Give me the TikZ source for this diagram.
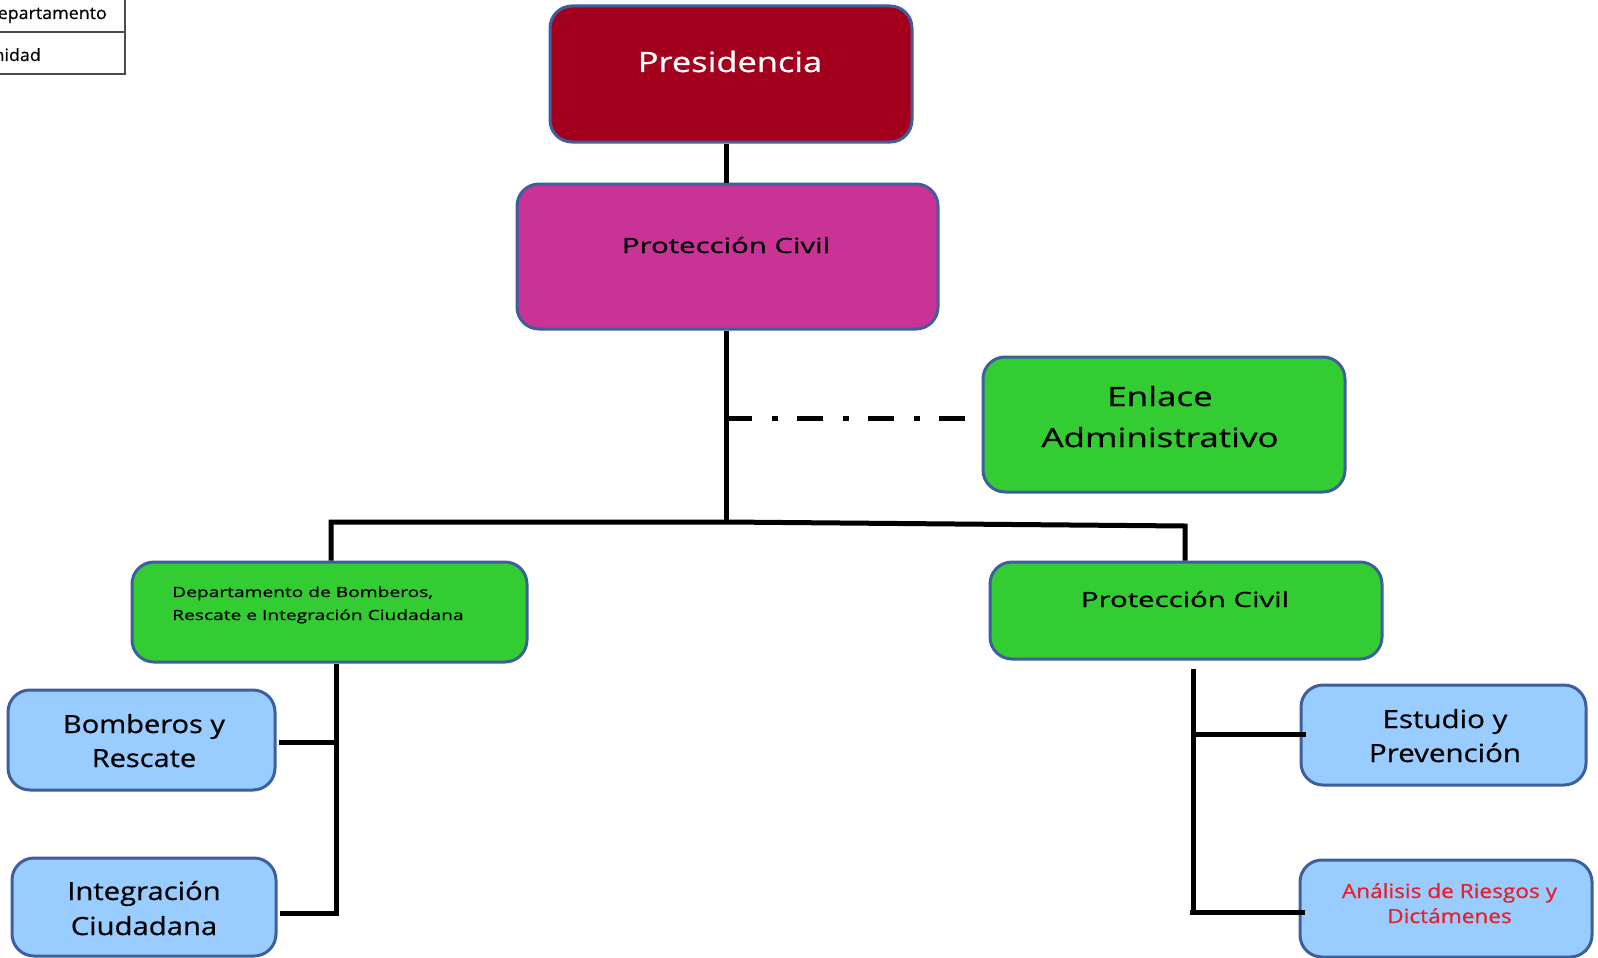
\documentclass[tikz,border=0pt]{standalone}
\usepackage{fontspec}
\setmainfont{Open Sans}[FakeBold=0.6]
\usetikzlibrary{calc}
\definecolor{presred}{HTML}{A3001E}
\definecolor{magentabox}{HTML}{CA3396}
\definecolor{greenbox}{HTML}{33CC33}
\definecolor{bluebox}{HTML}{99CCFF}
\definecolor{boxborder}{HTML}{3D5F9E}
\definecolor{redtext}{HTML}{E8202A}
\newcommand{\hstretch}[2]{\scalebox{#1}[1]{#2}}
\tikzset{
  box/.style={draw=boxborder, line width=3pt, rounded corners=22pt, rectangle, inner sep=0pt},
  txt/.style={anchor=base, inner sep=0pt},
  conn/.style={draw=black, line width=5pt, line join=miter},
  dashdotline/.style={draw=black, line width=5pt, dash pattern=on 26pt off 20pt on 6pt off 19pt},
  legendline/.style={draw=black!70, line width=1.5pt}
}
\begin{document}
\begin{tikzpicture}[x=1pt, y=-1pt]
\useasboundingbox (0,0) rectangle (1598,958);
\clip (0,0) rectangle (1598,958);
% legend
\draw[legendline] (0,32) -- (125,32);
\draw[legendline] (0,74) -- (125,74) -- (125,0);
\node[txt, anchor=base east, font=\fontsize{17}{20}\selectfont] (leg1) at (107,19) {\hstretch{1.05}{Departamento}};
\node[txt, anchor=base east, font=\fontsize{17}{20}\selectfont] (leg2) at (41,61) {\hstretch{1.05}{Unidad}};
% boxes
\node[box, fill=presred, minimum width=362pt, minimum height=136pt] (pres) at (731,74) {};
\node[box, fill=magentabox, minimum width=421pt, minimum height=145pt] (pc) at (727.5,256.5) {};
\node[box, fill=greenbox, minimum width=362pt, minimum height=135pt] (enl) at (1164,424.5) {};
\node[box, fill=greenbox, minimum width=395pt, minimum height=100pt] (dept) at (329.5,612) {};
\node[box, fill=greenbox, minimum width=392pt, minimum height=97pt] (pcg) at (1186,610.5) {};
\node[box, fill=bluebox, minimum width=267pt, minimum height=100pt] (bomb) at (141.5,740) {};
\node[box, fill=bluebox, minimum width=264pt, minimum height=98pt] (integ) at (144,907) {};
\node[box, fill=bluebox, minimum width=285pt, minimum height=100pt] (est) at (1443.5,735) {};
\node[box, fill=bluebox, minimum width=292pt, minimum height=97pt] (anal) at (1446,908.5) {};
% texts
\node[txt, text=white, font=\fontsize{28}{34}\selectfont] (pres-t) at (730,72) {\hstretch{1.23}{Presidencia}};
\node[txt, font=\fontsize{21}{25}\selectfont] (pc-t) at (726,253) {\hstretch{1.40}{Protección Civil}};
\node[txt, font=\fontsize{26.5}{32}\selectfont] (enl-t1) at (1160,406) {\hstretch{1.32}{Enlace}};
\node[txt, font=\fontsize{26.5}{32}\selectfont] (enl-t2) at (1160,447) {\hstretch{1.32}{Administrativo}};
\node[txt, anchor=base west, font=\fontsize{14}{17}\selectfont] (dept-t1) at (172,597) {\hstretch{1.37}{Departamento de Bomberos,}};
\node[txt, anchor=base west, font=\fontsize{14}{17}\selectfont] (dept-t2) at (172,620) {\hstretch{1.37}{Rescate e Integración Ciudadana}};
\node[txt, font=\fontsize{21}{25}\selectfont] (pcg-t) at (1185,607) {\hstretch{1.40}{Protección Civil}};
\node[txt, font=\fontsize{25}{30}\selectfont] (bomb-t1) at (144,733) {\hstretch{1.16}{Bomberos y}};
\node[txt, font=\fontsize{25}{30}\selectfont] (bomb-t2) at (144,767) {\hstretch{1.16}{Rescate}};
\node[txt, font=\fontsize{25}{30}\selectfont] (integ-t1) at (144,900) {\hstretch{1.17}{Integración}};
\node[txt, font=\fontsize{25}{30}\selectfont] (integ-t2) at (144,935) {\hstretch{1.17}{Ciudadana}};
\node[txt, font=\fontsize{25}{30}\selectfont] (est-t1) at (1445,728) {\hstretch{1.18}{Estudio y}};
\node[txt, font=\fontsize{25}{30}\selectfont] (est-t2) at (1445,762) {\hstretch{1.18}{Prevención}};
\node[txt, text=redtext, font=\fontsize{19.5}{23}\selectfont] (anal-t1) at (1449.5,898) {\hstretch{1.16}{Análisis de Riesgos y}};
\node[txt, text=redtext, font=\fontsize{19.5}{23}\selectfont] (anal-t2) at (1449.5,923) {\hstretch{1.16}{Dictámenes}};
% junction coordinates
\coordinate (j1) at (726,522);
\coordinate (jl) at (331,522);
\coordinate (jr) at (1185,526);
\coordinate (jd) at (726,418);
\coordinate (lv) at (336,913);
\coordinate (lb) at (336,742);
\coordinate (rv) at (1193,915);
\coordinate (rb1) at (1193,734);
\coordinate (rb2) at (1190,912);
% connectors
\draw[conn] (pres.south -| j1) -- (pc.north -| j1);
\draw[conn] (pc.south -| j1) -- (j1);
\draw[conn] (dept.north -| jl) -- (jl) -- (j1) -- (jr) -- (pcg.north -| jr);
\draw[dashdotline] (jd) -- ($(enl.west |- jd)+(-17,0)$);
\draw[conn] (dept.south -| lv) -- (lv) -- ($(integ.east |- lv)+(2,0)$);
\draw[conn] (lb) -- ($(bomb.east |- lb)+(2,0)$);
\draw[conn] ($(pcg.south -| rv)+(0,8)$) -- (rv);
\draw[conn] (rb1) -- ($(est.west |- rb1)+(6,0)$);
\draw[conn] (rb2) -- ($(anal.west |- rb2)+(6,0)$);
\end{tikzpicture}
\end{document}
